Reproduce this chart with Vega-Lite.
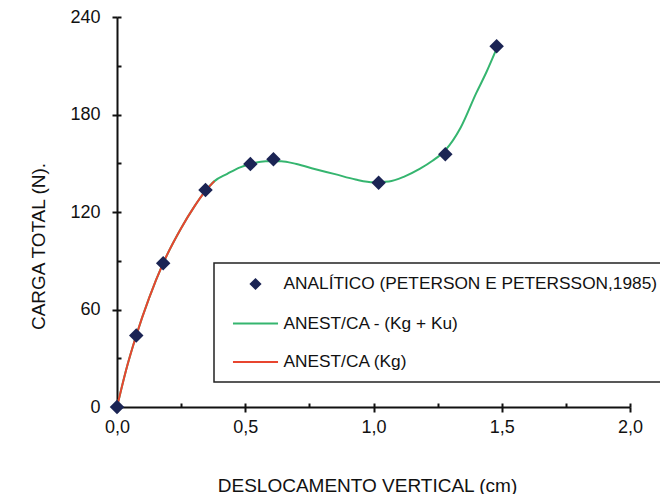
{
  "$schema": "https://vega.github.io/schema/vega-lite/v6.json",
  "width": 513,
  "height": 390,
  "autosize": {"type": "none"},
  "padding": {"left": 117, "top": 17, "right": 30, "bottom": 87},
  "background": "white",
  "config": {
    "view": {"stroke": null},
    "font": "Liberation Sans"
  },
  "data": {
    "values": [
      {"series": "ANALÍTICO (PETERSON E PETERSSON,1985)", "x": 0, "y": 0},
      {"series": "ANALÍTICO (PETERSON E PETERSSON,1985)", "x": 0.075, "y": 44},
      {"series": "ANALÍTICO (PETERSON E PETERSSON,1985)", "x": 0.18, "y": 88.5},
      {"series": "ANALÍTICO (PETERSON E PETERSSON,1985)", "x": 0.345, "y": 133.5},
      {"series": "ANALÍTICO (PETERSON E PETERSSON,1985)", "x": 0.52, "y": 149.5},
      {"series": "ANALÍTICO (PETERSON E PETERSSON,1985)", "x": 0.61, "y": 152.5},
      {"series": "ANALÍTICO (PETERSON E PETERSSON,1985)", "x": 1.02, "y": 138},
      {"series": "ANALÍTICO (PETERSON E PETERSSON,1985)", "x": 1.28, "y": 155.5},
      {"series": "ANALÍTICO (PETERSON E PETERSSON,1985)", "x": 1.48, "y": 222},

      {"series": "ANEST/CA - (Kg + Ku)", "x": 0, "y": 0},
      {"series": "ANEST/CA - (Kg + Ku)", "x": 0.035, "y": 22.5},
      {"series": "ANEST/CA - (Kg + Ku)", "x": 0.075, "y": 44},
      {"series": "ANEST/CA - (Kg + Ku)", "x": 0.125, "y": 67},
      {"series": "ANEST/CA - (Kg + Ku)", "x": 0.18, "y": 88.5},
      {"series": "ANEST/CA - (Kg + Ku)", "x": 0.25, "y": 110},
      {"series": "ANEST/CA - (Kg + Ku)", "x": 0.3, "y": 123},
      {"series": "ANEST/CA - (Kg + Ku)", "x": 0.345, "y": 133},
      {"series": "ANEST/CA - (Kg + Ku)", "x": 0.38, "y": 139},
      {"series": "ANEST/CA - (Kg + Ku)", "x": 0.43, "y": 143.5},
      {"series": "ANEST/CA - (Kg + Ku)", "x": 0.48, "y": 147.5},
      {"series": "ANEST/CA - (Kg + Ku)", "x": 0.52, "y": 149.5},
      {"series": "ANEST/CA - (Kg + Ku)", "x": 0.58, "y": 151.3},
      {"series": "ANEST/CA - (Kg + Ku)", "x": 0.64, "y": 151.3},
      {"series": "ANEST/CA - (Kg + Ku)", "x": 0.7, "y": 149.5},
      {"series": "ANEST/CA - (Kg + Ku)", "x": 0.77, "y": 146.5},
      {"series": "ANEST/CA - (Kg + Ku)", "x": 0.85, "y": 143.3},
      {"series": "ANEST/CA - (Kg + Ku)", "x": 0.93, "y": 140},
      {"series": "ANEST/CA - (Kg + Ku)", "x": 1.0, "y": 138.3},
      {"series": "ANEST/CA - (Kg + Ku)", "x": 1.06, "y": 138.8},
      {"series": "ANEST/CA - (Kg + Ku)", "x": 1.12, "y": 141.8},
      {"series": "ANEST/CA - (Kg + Ku)", "x": 1.18, "y": 146.5},
      {"series": "ANEST/CA - (Kg + Ku)", "x": 1.23, "y": 151.5},
      {"series": "ANEST/CA - (Kg + Ku)", "x": 1.28, "y": 158},
      {"series": "ANEST/CA - (Kg + Ku)", "x": 1.34, "y": 172},
      {"series": "ANEST/CA - (Kg + Ku)", "x": 1.4, "y": 193},
      {"series": "ANEST/CA - (Kg + Ku)", "x": 1.44, "y": 206},
      {"series": "ANEST/CA - (Kg + Ku)", "x": 1.48, "y": 220.5},

      {"series": "ANEST/CA (Kg)", "x": 0, "y": 0},
      {"series": "ANEST/CA (Kg)", "x": 0.035, "y": 22.5},
      {"series": "ANEST/CA (Kg)", "x": 0.075, "y": 44},
      {"series": "ANEST/CA (Kg)", "x": 0.125, "y": 67},
      {"series": "ANEST/CA (Kg)", "x": 0.18, "y": 88.5},
      {"series": "ANEST/CA (Kg)", "x": 0.25, "y": 110},
      {"series": "ANEST/CA (Kg)", "x": 0.3, "y": 123},
      {"series": "ANEST/CA (Kg)", "x": 0.345, "y": 133},
      {"series": "ANEST/CA (Kg)", "x": 0.38, "y": 139}
    ]
  },
  "resolve": {"axis": {"x": "independent", "y": "independent"}},
  "layer": [
    {
      "transform": [{"filter": "datum.series === 'ANEST/CA - (Kg + Ku)'"}],
      "mark": {"type": "line", "interpolate": "monotone", "strokeWidth": 2},
      "encoding": {
        "x": {
          "field": "x", "type": "quantitative",
          "scale": {"domain": [0, 2], "nice": false},
          "axis": {
            "values": [0, 0.5, 1, 1.5, 2],
            "labelExpr": "replace(format(datum.value, '.1f'), '.', ',')",
            "grid": false,
            "tickSize": 5, "tickWidth": 2, "tickColor": "#111",
            "domainColor": "#111", "domainWidth": 2,
            "labelFont": "Liberation Sans", "labelFontSize": 18, "labelColor": "#111",
            "labelPadding": 6, "labelFlush": false, "labelOverlap": false,
            "title": "DESLOCAMENTO VERTICAL (cm)",
            "titleFont": "Liberation Sans", "titleFontSize": 19, "titleFontWeight": "normal",
            "titleColor": "#111", "titlePadding": 40, "titleX": 250
          }
        },
        "y": {
          "field": "y", "type": "quantitative",
          "scale": {"domain": [0, 240], "nice": false},
          "axis": {
            "values": [0, 60, 120, 180, 240],
            "grid": false,
            "tickSize": 5, "tickWidth": 2, "tickColor": "#111",
            "domainColor": "#111", "domainWidth": 2,
            "labelFont": "Liberation Sans", "labelFontSize": 18, "labelColor": "#111",
            "labelPadding": 12, "labelFlush": false, "labelOverlap": false,
            "title": "CARGA TOTAL (N).",
            "titleFont": "Liberation Sans", "titleFontSize": 19, "titleFontWeight": "normal",
            "titleColor": "#111", "titleX": -79, "titleY": 229, "titleBaseline": "middle", "titleAngle": 270
          }
        },
        "color": {
          "field": "series", "type": "nominal",
          "scale": {
            "domain": ["ANALÍTICO (PETERSON E PETERSSON,1985)", "ANEST/CA - (Kg + Ku)", "ANEST/CA (Kg)"],
            "range": ["#1b2454", "#35b56f", "#e8452f"]
          },
          "legend": {
            "orient": "none", "legendX": 97, "legendY": 246,
            "title": null,
            "padding": 11.5, "rowPadding": 20.5,
            "symbolSize": 289, "symbolOffset": 20.5, "labelOffset": 18.5,
            "labelFont": "Liberation Sans", "labelFontSize": 17.3, "labelColor": "#111", "labelLimit": 0,
            "strokeColor": "#222", "fillColor": "white",
            "encode": {
              "legend": {"update": {"strokeWidth": {"value": 1.5}}},
              "symbols": {
                "update": {
                  "shape": {"signal": "datum.index === 0 ? 'M-0.55,0L0,-0.55L0.55,0L0,0.55Z' : 'M-2.65,0H2.65'"},
                  "fill": {"signal": "datum.index === 0 ? '#1b2454' : 'transparent'"},
                  "stroke": {"signal": "datum.index === 0 ? 'transparent' : (datum.index === 1 ? '#35b56f' : '#e8452f')"},
                  "strokeWidth": {"value": 2},
                  "opacity": {"value": 1}
                }
              }
            }
          }
        }
      }
    },
    {
      "transform": [{"filter": "datum.series === 'ANEST/CA (Kg)'"}],
      "mark": {"type": "line", "interpolate": "monotone", "strokeWidth": 2},
      "encoding": {
        "x": {
          "field": "x", "type": "quantitative",
          "scale": {"domain": [0, 2], "nice": false},
          "axis": {
            "orient": "bottom",
            "values": [0, 0.25, 0.5, 0.75, 1, 1.25, 1.5, 1.75, 2],
            "labels": false, "domain": false, "grid": false, "title": null,
            "tickSize": -4, "tickWidth": 2, "tickColor": "#111"
          }
        },
        "y": {
          "field": "y", "type": "quantitative",
          "scale": {"domain": [0, 240], "nice": false},
          "axis": {
            "orient": "left",
            "values": [0, 30, 60, 90, 120, 150, 180, 210, 240],
            "labels": false, "domain": false, "grid": false, "title": null,
            "tickSize": -4, "tickWidth": 2, "tickColor": "#111"
          }
        },
        "color": {"field": "series", "type": "nominal"}
      }
    },
    {
      "transform": [{"filter": "datum.series === 'ANALÍTICO (PETERSON E PETERSSON,1985)'"}],
      "mark": {"type": "point", "shape": "diamond", "filled": true, "size": 210, "opacity": 1},
      "encoding": {
        "x": {"field": "x", "type": "quantitative", "axis": null},
        "y": {"field": "y", "type": "quantitative", "axis": null},
        "color": {"field": "series", "type": "nominal"}
      }
    }
  ]
}
